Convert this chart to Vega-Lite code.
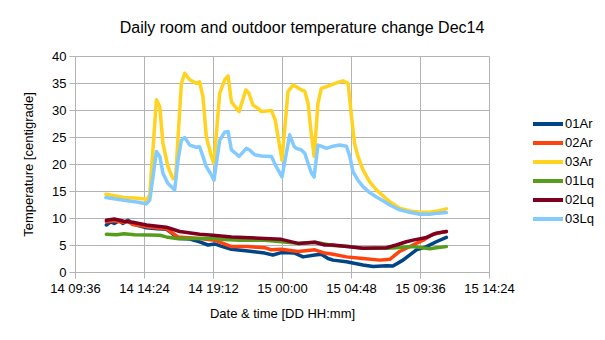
{
"$schema": "https://vega.github.io/schema/vega-lite/v6.json",
"width": 414, "height": 216,
"autosize": "none",
"padding": {"left": 75, "top": 56, "right": 116, "bottom": 68},
"background": "white",
"title": {"text": "Daily room and outdoor temperature change Dec14", "font": "Liberation Sans", "fontSize": 16, "fontWeight": "normal", "color": "#000000", "anchor": "middle", "dx": 20, "offset": 1, "baseline": "alphabetic"},
"config": {
  "view": {"stroke": null},
  "axis": {"gridColor": "#b3b3b3", "domainColor": "#b3b3b3", "tickColor": "#b3b3b3", "gridWidth": 1, "domainWidth": 1, "tickWidth": 1, "tickSize": 6, "labelFont": "Liberation Sans", "labelFontSize": 13, "labelColor": "#000000", "titleFont": "Liberation Sans", "titleFontSize": 13, "titleFontWeight": "normal", "titleColor": "#000000", "labelFlush": false, "labelOverlap": false},
  "legend": {"labelFont": "Liberation Sans", "labelFontSize": 13, "labelColor": "#000000"}
},
"data": {"values": [
{"s":"03Ar","t":"2014-12-14T11:45","v":14.4},
{"s":"03Ar","t":"2014-12-14T13:00","v":13.8},
{"s":"03Ar","t":"2014-12-14T13:45","v":13.7},
{"s":"03Ar","t":"2014-12-14T14:27","v":13.5},
{"s":"03Ar","t":"2014-12-14T14:34","v":13.2},
{"s":"03Ar","t":"2014-12-14T14:48","v":14.3},
{"s":"03Ar","t":"2014-12-14T15:16","v":31.9},
{"s":"03Ar","t":"2014-12-14T15:30","v":30.6},
{"s":"03Ar","t":"2014-12-14T15:43","v":23.8},
{"s":"03Ar","t":"2014-12-14T16:04","v":19.5},
{"s":"03Ar","t":"2014-12-14T16:25","v":17.3},
{"s":"03Ar","t":"2014-12-14T16:36","v":17.6},
{"s":"03Ar","t":"2014-12-14T17:00","v":34.9},
{"s":"03Ar","t":"2014-12-14T17:14","v":36.8},
{"s":"03Ar","t":"2014-12-14T17:35","v":35.6},
{"s":"03Ar","t":"2014-12-14T18:03","v":34.9},
{"s":"03Ar","t":"2014-12-14T18:16","v":35.2},
{"s":"03Ar","t":"2014-12-14T18:30","v":32.5},
{"s":"03Ar","t":"2014-12-14T18:44","v":25.1},
{"s":"03Ar","t":"2014-12-14T19:05","v":21.4},
{"s":"03Ar","t":"2014-12-14T19:16","v":20.1},
{"s":"03Ar","t":"2014-12-14T19:40","v":33.1},
{"s":"03Ar","t":"2014-12-14T20:01","v":35.6},
{"s":"03Ar","t":"2014-12-14T20:15","v":36.3},
{"s":"03Ar","t":"2014-12-14T20:29","v":31.5},
{"s":"03Ar","t":"2014-12-14T21:01","v":29.7},
{"s":"03Ar","t":"2014-12-14T21:29","v":33.7},
{"s":"03Ar","t":"2014-12-14T21:42","v":33.1},
{"s":"03Ar","t":"2014-12-14T21:59","v":30.9},
{"s":"03Ar","t":"2014-12-14T22:20","v":30.3},
{"s":"03Ar","t":"2014-12-14T22:34","v":29.7},
{"s":"03Ar","t":"2014-12-14T23:16","v":29.9},
{"s":"03Ar","t":"2014-12-14T23:32","v":28.1},
{"s":"03Ar","t":"2014-12-15T00:00","v":20.7},
{"s":"03Ar","t":"2014-12-15T00:25","v":33.4},
{"s":"03Ar","t":"2014-12-15T00:46","v":34.6},
{"s":"03Ar","t":"2014-12-15T01:00","v":34.3},
{"s":"03Ar","t":"2014-12-15T01:21","v":33.7},
{"s":"03Ar","t":"2014-12-15T01:35","v":33.5},
{"s":"03Ar","t":"2014-12-15T01:49","v":31.2},
{"s":"03Ar","t":"2014-12-15T01:59","v":26.9},
{"s":"03Ar","t":"2014-12-15T02:14","v":21.4},
{"s":"03Ar","t":"2014-12-15T02:30","v":31.2},
{"s":"03Ar","t":"2014-12-15T02:44","v":34.0},
{"s":"03Ar","t":"2014-12-15T03:05","v":34.3},
{"s":"03Ar","t":"2014-12-15T03:33","v":34.8},
{"s":"03Ar","t":"2014-12-15T04:01","v":35.2},
{"s":"03Ar","t":"2014-12-15T04:15","v":35.4},
{"s":"03Ar","t":"2014-12-15T04:36","v":34.9},
{"s":"03Ar","t":"2014-12-15T04:50","v":28.8},
{"s":"03Ar","t":"2014-12-15T05:03","v":23.8},
{"s":"03Ar","t":"2014-12-15T05:17","v":21.4},
{"s":"03Ar","t":"2014-12-15T05:38","v":18.9},
{"s":"03Ar","t":"2014-12-15T06:06","v":16.7},
{"s":"03Ar","t":"2014-12-15T06:34","v":15.2},
{"s":"03Ar","t":"2014-12-15T07:02","v":14.1},
{"s":"03Ar","t":"2014-12-15T07:30","v":13.0},
{"s":"03Ar","t":"2014-12-15T08:11","v":11.8},
{"s":"03Ar","t":"2014-12-15T08:53","v":11.3},
{"s":"03Ar","t":"2014-12-15T09:35","v":11.05},
{"s":"03Ar","t":"2014-12-15T10:17","v":11.05},
{"s":"03Ar","t":"2014-12-15T10:51","v":11.3},
{"s":"03Ar","t":"2014-12-15T11:26","v":11.7},

{"s":"03Lq","t":"2014-12-14T11:45","v":13.8},
{"s":"03Lq","t":"2014-12-14T13:00","v":13.3},
{"s":"03Lq","t":"2014-12-14T14:00","v":12.9},
{"s":"03Lq","t":"2014-12-14T14:27","v":12.7},
{"s":"03Lq","t":"2014-12-14T14:34","v":12.6},
{"s":"03Lq","t":"2014-12-14T14:48","v":13.3},
{"s":"03Lq","t":"2014-12-14T15:16","v":22.3},
{"s":"03Lq","t":"2014-12-14T15:30","v":21.4},
{"s":"03Lq","t":"2014-12-14T15:43","v":18.3},
{"s":"03Lq","t":"2014-12-14T16:04","v":16.4},
{"s":"03Lq","t":"2014-12-14T16:32","v":15.2},
{"s":"03Lq","t":"2014-12-14T16:46","v":20.7},
{"s":"03Lq","t":"2014-12-14T17:00","v":24.4},
{"s":"03Lq","t":"2014-12-14T17:14","v":24.9},
{"s":"03Lq","t":"2014-12-14T17:35","v":23.5},
{"s":"03Lq","t":"2014-12-14T18:03","v":23.1},
{"s":"03Lq","t":"2014-12-14T18:16","v":23.2},
{"s":"03Lq","t":"2014-12-14T18:30","v":21.4},
{"s":"03Lq","t":"2014-12-14T18:44","v":19.5},
{"s":"03Lq","t":"2014-12-14T19:05","v":18.0},
{"s":"03Lq","t":"2014-12-14T19:16","v":17.0},
{"s":"03Lq","t":"2014-12-14T19:40","v":24.4},
{"s":"03Lq","t":"2014-12-14T20:01","v":25.9},
{"s":"03Lq","t":"2014-12-14T20:15","v":26.0},
{"s":"03Lq","t":"2014-12-14T20:29","v":22.6},
{"s":"03Lq","t":"2014-12-14T21:01","v":21.4},
{"s":"03Lq","t":"2014-12-14T21:31","v":22.9},
{"s":"03Lq","t":"2014-12-14T21:45","v":22.6},
{"s":"03Lq","t":"2014-12-14T22:06","v":21.7},
{"s":"03Lq","t":"2014-12-14T22:34","v":21.5},
{"s":"03Lq","t":"2014-12-14T23:16","v":21.4},
{"s":"03Lq","t":"2014-12-14T23:36","v":19.5},
{"s":"03Lq","t":"2014-12-15T00:00","v":17.6},
{"s":"03Lq","t":"2014-12-15T00:32","v":25.4},
{"s":"03Lq","t":"2014-12-15T00:50","v":23.3},
{"s":"03Lq","t":"2014-12-15T01:00","v":22.9},
{"s":"03Lq","t":"2014-12-15T01:21","v":22.6},
{"s":"03Lq","t":"2014-12-15T01:35","v":22.0},
{"s":"03Lq","t":"2014-12-15T01:49","v":20.1},
{"s":"03Lq","t":"2014-12-15T02:03","v":18.3},
{"s":"03Lq","t":"2014-12-15T02:14","v":17.6},
{"s":"03Lq","t":"2014-12-15T02:30","v":23.5},
{"s":"03Lq","t":"2014-12-15T02:44","v":23.3},
{"s":"03Lq","t":"2014-12-15T03:05","v":22.9},
{"s":"03Lq","t":"2014-12-15T03:33","v":23.3},
{"s":"03Lq","t":"2014-12-15T04:01","v":23.5},
{"s":"03Lq","t":"2014-12-15T04:29","v":23.3},
{"s":"03Lq","t":"2014-12-15T04:43","v":21.4},
{"s":"03Lq","t":"2014-12-15T04:56","v":18.6},
{"s":"03Lq","t":"2014-12-15T05:17","v":17.0},
{"s":"03Lq","t":"2014-12-15T05:38","v":15.8},
{"s":"03Lq","t":"2014-12-15T06:06","v":14.7},
{"s":"03Lq","t":"2014-12-15T06:34","v":13.9},
{"s":"03Lq","t":"2014-12-15T07:02","v":13.2},
{"s":"03Lq","t":"2014-12-15T07:30","v":12.4},
{"s":"03Lq","t":"2014-12-15T08:11","v":11.5},
{"s":"03Lq","t":"2014-12-15T08:53","v":11.05},
{"s":"03Lq","t":"2014-12-15T09:35","v":10.7},
{"s":"03Lq","t":"2014-12-15T10:17","v":10.7},
{"s":"03Lq","t":"2014-12-15T10:51","v":10.9},
{"s":"03Lq","t":"2014-12-15T11:26","v":11.0},

{"s":"01Ar","t":"2014-12-14T11:47","v":8.7},
{"s":"01Ar","t":"2014-12-14T12:05","v":9.3},
{"s":"01Ar","t":"2014-12-14T12:20","v":9.0},
{"s":"01Ar","t":"2014-12-14T12:40","v":9.5},
{"s":"01Ar","t":"2014-12-14T12:55","v":9.0},
{"s":"01Ar","t":"2014-12-14T13:17","v":9.6},
{"s":"01Ar","t":"2014-12-14T13:37","v":8.9},
{"s":"01Ar","t":"2014-12-14T14:00","v":8.6},
{"s":"01Ar","t":"2014-12-14T14:34","v":8.2},
{"s":"01Ar","t":"2014-12-14T15:20","v":8.0},
{"s":"01Ar","t":"2014-12-14T15:57","v":7.9},
{"s":"01Ar","t":"2014-12-14T16:11","v":7.5},
{"s":"01Ar","t":"2014-12-14T16:46","v":6.2},
{"s":"01Ar","t":"2014-12-14T17:35","v":6.1},
{"s":"01Ar","t":"2014-12-14T18:16","v":5.6},
{"s":"01Ar","t":"2014-12-14T18:51","v":5.0},
{"s":"01Ar","t":"2014-12-14T19:19","v":5.2},
{"s":"01Ar","t":"2014-12-14T19:45","v":4.8},
{"s":"01Ar","t":"2014-12-14T20:29","v":4.2},
{"s":"01Ar","t":"2014-12-14T21:38","v":3.9},
{"s":"01Ar","t":"2014-12-14T22:48","v":3.5},
{"s":"01Ar","t":"2014-12-14T23:22","v":3.15},
{"s":"01Ar","t":"2014-12-14T23:57","v":3.6},
{"s":"01Ar","t":"2014-12-15T00:53","v":3.5},
{"s":"01Ar","t":"2014-12-15T01:28","v":2.8},
{"s":"01Ar","t":"2014-12-15T02:17","v":3.15},
{"s":"01Ar","t":"2014-12-15T02:44","v":3.3},
{"s":"01Ar","t":"2014-12-15T03:12","v":2.5},
{"s":"01Ar","t":"2014-12-15T03:33","v":2.2},
{"s":"01Ar","t":"2014-12-15T04:29","v":1.9},
{"s":"01Ar","t":"2014-12-15T05:38","v":1.3},
{"s":"01Ar","t":"2014-12-15T06:20","v":1.0},
{"s":"01Ar","t":"2014-12-15T07:16","v":1.15},
{"s":"01Ar","t":"2014-12-15T07:43","v":1.1},
{"s":"01Ar","t":"2014-12-15T08:25","v":2.2},
{"s":"01Ar","t":"2014-12-15T09:21","v":4.1},
{"s":"01Ar","t":"2014-12-15T10:03","v":4.7},
{"s":"01Ar","t":"2014-12-15T10:44","v":5.6},
{"s":"01Ar","t":"2014-12-15T11:26","v":6.4},

{"s":"02Ar","t":"2014-12-14T11:47","v":9.3},
{"s":"02Ar","t":"2014-12-14T12:20","v":9.5},
{"s":"02Ar","t":"2014-12-14T12:55","v":9.2},
{"s":"02Ar","t":"2014-12-14T13:17","v":9.4},
{"s":"02Ar","t":"2014-12-14T13:37","v":8.8},
{"s":"02Ar","t":"2014-12-14T14:34","v":8.4},
{"s":"02Ar","t":"2014-12-14T15:57","v":8.0},
{"s":"02Ar","t":"2014-12-14T16:46","v":6.5},
{"s":"02Ar","t":"2014-12-14T18:16","v":6.2},
{"s":"02Ar","t":"2014-12-14T19:19","v":5.9},
{"s":"02Ar","t":"2014-12-14T20:29","v":4.7},
{"s":"02Ar","t":"2014-12-14T21:38","v":4.7},
{"s":"02Ar","t":"2014-12-14T22:48","v":4.5},
{"s":"02Ar","t":"2014-12-14T23:16","v":4.1},
{"s":"02Ar","t":"2014-12-14T23:57","v":4.2},
{"s":"02Ar","t":"2014-12-15T01:07","v":3.8},
{"s":"02Ar","t":"2014-12-15T02:17","v":4.1},
{"s":"02Ar","t":"2014-12-15T02:58","v":3.5},
{"s":"02Ar","t":"2014-12-15T03:33","v":3.3},
{"s":"02Ar","t":"2014-12-15T04:29","v":2.8},
{"s":"02Ar","t":"2014-12-15T05:38","v":2.5},
{"s":"02Ar","t":"2014-12-15T06:48","v":2.2},
{"s":"02Ar","t":"2014-12-15T07:30","v":2.35},
{"s":"02Ar","t":"2014-12-15T08:11","v":3.8},
{"s":"02Ar","t":"2014-12-15T09:07","v":5.0},
{"s":"02Ar","t":"2014-12-15T09:49","v":5.9},
{"s":"02Ar","t":"2014-12-15T10:30","v":7.0},
{"s":"02Ar","t":"2014-12-15T11:26","v":7.5},

{"s":"01Lq","t":"2014-12-14T11:47","v":7.0},
{"s":"01Lq","t":"2014-12-14T12:30","v":6.9},
{"s":"01Lq","t":"2014-12-14T13:00","v":7.1},
{"s":"01Lq","t":"2014-12-14T13:45","v":6.9},
{"s":"01Lq","t":"2014-12-14T14:48","v":6.85},
{"s":"01Lq","t":"2014-12-14T15:30","v":6.8},
{"s":"01Lq","t":"2014-12-14T15:57","v":6.5},
{"s":"01Lq","t":"2014-12-14T16:40","v":6.2},
{"s":"01Lq","t":"2014-12-14T18:16","v":6.2},
{"s":"01Lq","t":"2014-12-14T19:19","v":6.2},
{"s":"01Lq","t":"2014-12-14T20:00","v":6.0},
{"s":"01Lq","t":"2014-12-14T21:00","v":5.9},
{"s":"01Lq","t":"2014-12-14T22:48","v":5.9},
{"s":"01Lq","t":"2014-12-14T23:57","v":5.6},
{"s":"01Lq","t":"2014-12-15T01:07","v":5.3},
{"s":"01Lq","t":"2014-12-15T02:17","v":5.5},
{"s":"01Lq","t":"2014-12-15T03:33","v":4.9},
{"s":"01Lq","t":"2014-12-15T04:43","v":4.7},
{"s":"01Lq","t":"2014-12-15T05:38","v":4.4},
{"s":"01Lq","t":"2014-12-15T07:16","v":4.4},
{"s":"01Lq","t":"2014-12-15T07:57","v":4.5},
{"s":"01Lq","t":"2014-12-15T09:07","v":4.7},
{"s":"01Lq","t":"2014-12-15T10:17","v":4.3},
{"s":"01Lq","t":"2014-12-15T10:44","v":4.5},
{"s":"01Lq","t":"2014-12-15T11:26","v":4.7},

{"s":"02Lq","t":"2014-12-14T11:47","v":9.6},
{"s":"02Lq","t":"2014-12-14T12:20","v":9.8},
{"s":"02Lq","t":"2014-12-14T13:00","v":9.4},
{"s":"02Lq","t":"2014-12-14T13:37","v":9.2},
{"s":"02Lq","t":"2014-12-14T14:34","v":8.7},
{"s":"02Lq","t":"2014-12-14T15:57","v":8.3},
{"s":"02Lq","t":"2014-12-14T16:53","v":7.5},
{"s":"02Lq","t":"2014-12-14T18:16","v":7.0},
{"s":"02Lq","t":"2014-12-14T19:12","v":6.8},
{"s":"02Lq","t":"2014-12-14T20:29","v":6.5},
{"s":"02Lq","t":"2014-12-14T22:48","v":6.2},
{"s":"02Lq","t":"2014-12-14T23:57","v":6.05},
{"s":"02Lq","t":"2014-12-15T01:07","v":5.3},
{"s":"02Lq","t":"2014-12-15T02:17","v":5.5},
{"s":"02Lq","t":"2014-12-15T02:58","v":5.0},
{"s":"02Lq","t":"2014-12-15T03:33","v":5.0},
{"s":"02Lq","t":"2014-12-15T05:38","v":4.4},
{"s":"02Lq","t":"2014-12-15T07:16","v":4.5},
{"s":"02Lq","t":"2014-12-15T07:57","v":5.0},
{"s":"02Lq","t":"2014-12-15T08:39","v":5.6},
{"s":"02Lq","t":"2014-12-15T09:07","v":5.9},
{"s":"02Lq","t":"2014-12-15T10:03","v":6.4},
{"s":"02Lq","t":"2014-12-15T10:44","v":7.2},
{"s":"02Lq","t":"2014-12-15T11:26","v":7.5}
]},
"mark": {"type": "line", "strokeWidth": 3.5, "strokeJoin": "round", "strokeCap": "round"},
"encoding": {
  "x": {"field": "t", "type": "temporal",
    "scale": {"domain": [{"year": 2014, "month": 12, "date": 14, "hours": 9, "minutes": 36}, {"year": 2014, "month": 12, "date": 15, "hours": 14, "minutes": 24}]},
    "axis": {"values": [
      {"year": 2014, "month": 12, "date": 14, "hours": 9, "minutes": 36},
      {"year": 2014, "month": 12, "date": 14, "hours": 14, "minutes": 24},
      {"year": 2014, "month": 12, "date": 14, "hours": 19, "minutes": 12},
      {"year": 2014, "month": 12, "date": 15, "hours": 0, "minutes": 0},
      {"year": 2014, "month": 12, "date": 15, "hours": 4, "minutes": 48},
      {"year": 2014, "month": 12, "date": 15, "hours": 9, "minutes": 36},
      {"year": 2014, "month": 12, "date": 15, "hours": 14, "minutes": 24}],
      "format": "%d %H:%M", "title": "Date & time [DD HH:mm]", "labelPadding": 4, "titlePadding": 12}},
  "y": {"field": "v", "type": "quantitative", "scale": {"domain": [0, 40], "nice": false, "zero": true},
    "axis": {"values": [0, 5, 10, 15, 20, 25, 30, 35, 40], "title": "Temperature [centigrade]", "labelPadding": 3, "titlePadding": 16}},
  "color": {"field": "s", "type": "nominal",
    "scale": {"domain": ["01Ar", "02Ar", "03Ar", "01Lq", "02Lq", "03Lq"], "range": ["#004586", "#ff420e", "#ffd320", "#579d1c", "#7e0021", "#83caff"]},
    "legend": {"title": null, "orient": "none", "legendX": 466, "legendY": 61, "symbolType": "M-3,0H3", "symbolSize": 100, "symbolStrokeWidth": 4, "symbolFillColor": "transparent", "labelOffset": 10, "rowPadding": 3}}
}
}
